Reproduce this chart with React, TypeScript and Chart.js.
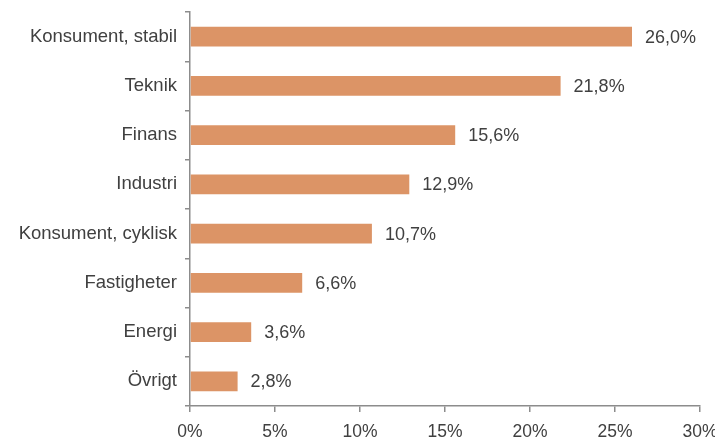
import React, { useEffect, useRef } from "react";
import { Chart, registerables } from "chart.js";

Chart.register(...registerables);

const categories = [
  "Konsument, stabil",
  "Teknik",
  "Finans",
  "Industri",
  "Konsument, cyklisk",
  "Fastigheter",
  "Energi",
  "Övrigt",
];
const values = [26.0, 21.8, 15.6, 12.9, 10.7, 6.6, 3.6, 2.8];
const xTicks = [0, 5, 10, 15, 20, 25, 30];

const TEXT = "#404040";
const AXIS = "#8c8c8c";
const BAR = "#dc9466";
const FONT = "'Liberation Sans', Arial, sans-serif";

const fmt = (v: number) => v.toFixed(1).replace(".", ",") + "%";

const valueLabels = {
  id: "valueLabels",
  afterDatasetsDraw(chart: any) {
    const ctx = chart.ctx;
    const meta = chart.getDatasetMeta(0);
    ctx.save();
    ctx.font = `18px ${FONT}`;
    ctx.fillStyle = TEXT;
    ctx.textAlign = "left";
    ctx.textBaseline = "middle";
    meta.data.forEach((bar: any, i: number) => {
      ctx.fillText(fmt(values[i]), bar.x + 13, bar.y + 1);
    });
    ctx.restore();
  },
};

export default function App() {
  const ref = useRef<HTMLCanvasElement>(null);

  useEffect(() => {
    if (!ref.current) return;
    const chart = new Chart(ref.current, {
      type: "bar",
      data: {
        labels: categories,
        datasets: [
          {
            data: values,
            backgroundColor: BAR,
            borderWidth: 0,
            categoryPercentage: 1,
            barPercentage: 0.4,
          },
        ],
      },
      options: {
        indexAxis: "y",
        animation: false,
        responsive: true,
        maintainAspectRatio: false,
        layout: { padding: { top: 12, right: 15, left: 0, bottom: 0 } },
        plugins: {
          legend: { display: false },
          tooltip: { enabled: false },
        },
        scales: {
          x: {
            type: "linear",
            min: 0,
            max: 30,
            afterBuildTicks: (scale: any) => {
              scale.ticks = xTicks.map((v) => ({ value: v }));
            },
            afterFit: (scale: any) => {
              scale.height = 33;
              scale.paddingRight = 0;
              scale.paddingLeft = 0;
            },
            ticks: {
              color: TEXT,
              font: { family: FONT, size: 17.5 },
              padding: 10,
              maxRotation: 0,
              callback: (v: any) => `${v}%`,
            },
            grid: {
              drawOnChartArea: false,
              drawTicks: true,
              tickLength: 6,
              color: AXIS,
              lineWidth: 1.5,
            },
            border: { color: AXIS, width: 1.5 },
          },
          y: {
            afterFit: (scale: any) => {
              scale.width = 190;
              scale.paddingTop = 0;
              scale.paddingBottom = 0;
            },
            ticks: {
              color: TEXT,
              font: { family: FONT, size: 18.5 },
              padding: 8,
            },
            grid: {
              drawOnChartArea: false,
              drawTicks: true,
              tickLength: 5,
              offset: true,
              color: AXIS,
              lineWidth: 1.5,
            },
            border: { color: AXIS, width: 1.5 },
          },
        },
      },
      plugins: [valueLabels],
    });
    return () => chart.destroy();
  }, []);

  return (
    <div
      style={{
        position: "absolute",
        left: 0,
        top: 0,
        width: 715,
        height: 439,
        background: "#fff",
      }}
    >
      <canvas ref={ref} />
    </div>
  );
}
